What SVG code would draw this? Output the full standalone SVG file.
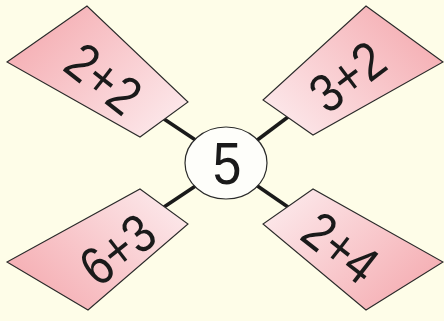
<svg xmlns="http://www.w3.org/2000/svg" width="444" height="321" viewBox="0 0 444 321">
<style>
.tag{stroke:#2a2a2a;stroke-width:1.1;stroke-linejoin:miter}
.lbl{font-family:"Liberation Sans",Arial,sans-serif;font-size:54px;fill:#1a1a1a;text-anchor:middle}
.conn{stroke:#1a1a1a;stroke-width:3.6;stroke-linecap:butt}
</style>
<defs>
<linearGradient id="g" gradientUnits="objectBoundingBox">
<stop offset="0" stop-color="#f5aeb3"/>
<stop offset="1" stop-color="#fdeef0"/>
</linearGradient>
<linearGradient id="gTL" href="#g" x1="0" y1="0.3" x2="1" y2="1"/>
<linearGradient id="gTR" href="#g" x1="1" y1="0.3" x2="0" y2="1"/>
<linearGradient id="gBL" href="#g" x1="0" y1="0.7" x2="1" y2="0"/>
<linearGradient id="gBR" href="#g" x1="1" y1="0.7" x2="0" y2="0"/>
</defs>
<rect width="444" height="321" fill="#fefde8"/>
<g id="connectors">
<line class="conn" x1="164" y1="119" x2="197" y2="141"/>
<line class="conn" x1="288" y1="117" x2="256" y2="141"/>
<line class="conn" x1="164" y1="207" x2="197" y2="185"/>
<line class="conn" x1="288" y1="207" x2="256" y2="185"/>
</g>
<g id="node-2plus2">
<polygon class="tag" fill="url(#gTL)" points="87,6 7,62 140,137 188,102"/>
<text class="lbl" transform="translate(104,78) rotate(38) scale(0.86,1)" dy="0.36em">2+2</text>
</g>
<g id="node-3plus2">
<polygon class="tag" fill="url(#gTR)" points="366,6 443,62 313,135 263,100"/>
<text class="lbl" transform="translate(347,76) rotate(-37) scale(0.86,1)" dy="0.36em">3+2</text>
</g>
<g id="node-6plus3">
<polygon class="tag" fill="url(#gBL)" points="140,189 188,224 88,310 7,262"/>
<text class="lbl" transform="translate(117,249) rotate(-38) scale(0.86,1)" dy="0.36em">6+3</text>
</g>
<g id="node-2plus4">
<polygon class="tag" fill="url(#gBR)" points="313,189 263,224 366,310 443,262"/>
<text class="lbl" transform="translate(341,247) rotate(38) scale(0.86,1)" dy="0.36em">2+4</text>
</g>
<g id="node-5">
<ellipse cx="226" cy="163" rx="41" ry="36" fill="#fefefa" stroke="#2a2a2a" stroke-width="1.2"/>
<text class="lbl" transform="translate(227,162) scale(0.86,1)" style="font-size:60px" dy="0.36em">5</text>
</g>
</svg>
